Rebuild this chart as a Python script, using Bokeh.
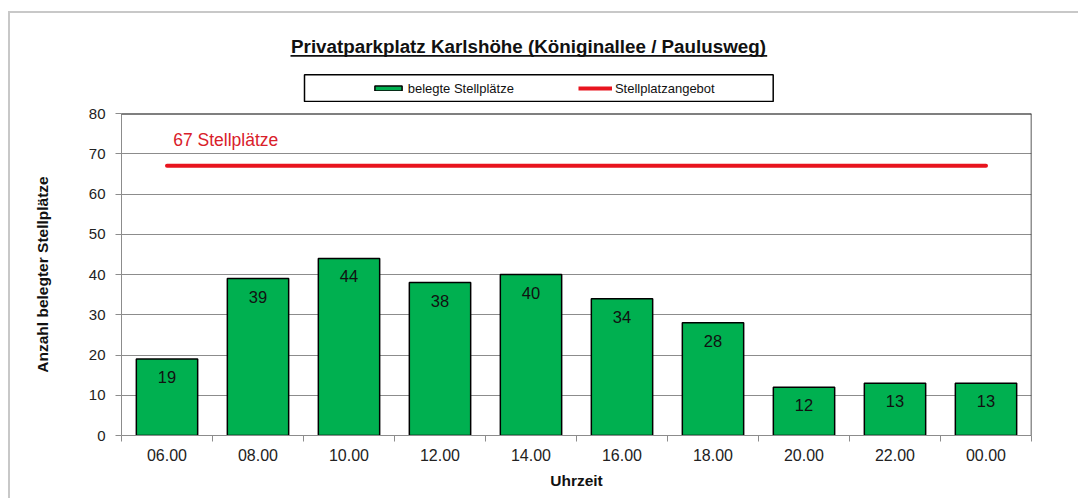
from bokeh.plotting import figure
from bokeh.layouts import column
from bokeh.models import (FixedTicker, Range1d, Label, Span, Legend, LegendItem,
                          ColumnDataSource)
from bokeh.core.properties import value
from bokeh.embed import file_html
from bokeh.resources import INLINE

# ---- data ----
categories = ["06.00", "08.00", "10.00", "12.00", "14.00",
              "16.00", "18.00", "20.00", "22.00", "00.00"]
occupied = [19, 39, 44, 38, 40, 34, 28, 12, 13, 13]
capacity = 67
y_ticks = [0, 10, 20, 30, 40, 50, 60, 70, 80]

title_text = "Privatparkplatz Karlshöhe (Königinallee / Paulusweg)"
bar_legend = "belegte Stellplätze"
line_legend = "Stellplatzangebot"
capacity_text = "67 Stellplätze"
x_title = "Uhrzeit"
y_title = "Anzahl belegter Stellplätze"

FONT = "Liberation Sans"
GREEN = "#00B050"
RED = "#E8141E"
GRID = "#8c8c8c"
NAN = float("nan")

n = len(categories)
centers = [i + 0.5 for i in range(n)]
bounds = [float(i) for i in range(n + 1)]
labels = [str(v) for v in occupied]

# page geometry (layout content starts at OX, OY inside a 2px border)
OX, OY = 10, 13
W = 1068
FRAME_L, FRAME_R, FRAME_T, FRAME_B = 121, 1031, 113, 435
SPLIT = 102                      # page y where header ends and chart begins
HEAD_H = SPLIT - OY
MAIN_H = 498 - SPLIT
BL = FRAME_L - OX
BR = W - (FRAME_R - OX)

# ---------------- header (title + legend) ----------------
hdr = figure(width=W, height=HEAD_H, output_backend="svg", toolbar_location=None,
             x_range=Range1d(FRAME_L, FRAME_R), y_range=Range1d(SPLIT, OY),
             min_border_left=BL, min_border_right=BR,
             min_border_top=0, min_border_bottom=0,
             background_fill_color="white", border_fill_color="white")
hdr.axis.visible = False
hdr.grid.visible = False
hdr.outline_line_color = None

hdr.text(x=[528], y=[45.7], text=[title_text], text_font=value(FONT),
         text_font_size="18.8px", text_font_style="bold", text_align="center",
         text_baseline="alphabetic", text_color="#111111")
hdr.line(x=[290, 766.7], y=[55.4, 55.4], line_color="#111111", line_width=1.6)
hdr.quad(left=[304], right=[772.7], top=[74.3], bottom=[101],
         fill_color="white", line_color="black", line_width=1.5)

# legend proxies (NaN data: nothing drawn in the header itself)
proxy_bar = hdr.vbar(x=[NAN], top=[NAN], width=1, fill_color=GREEN,
                     line_color="black", line_width=1.5)
proxy_line = hdr.line(x=[NAN, NAN], y=[NAN, NAN], line_color=RED, line_width=4)
legend = Legend(items=[LegendItem(label=bar_legend, renderers=[proxy_bar]),
                       LegendItem(label=line_legend, renderers=[proxy_line])],
                orientation="horizontal",
                location=(370.7 - FRAME_L, SPLIT - 98),
                glyph_width=34, glyph_height=6, label_height=20,
                label_standoff=3, spacing=64, padding=0, margin=0,
                border_line_color=None, background_fill_alpha=0,
                label_text_font=FONT, label_text_font_size="13px",
                label_text_color="#111111")
hdr.add_layout(legend, "center")

# ---------------- main chart ----------------
src = ColumnDataSource(dict(x=centers, top=occupied, lab=labels, cat=categories))

p = figure(width=W, height=MAIN_H, output_backend="svg", toolbar_location=None,
           x_range=Range1d(0, n), y_range=Range1d(0, 80),
           min_border_left=BL, min_border_right=BR,
           min_border_top=FRAME_T - SPLIT,
           min_border_bottom=498 - FRAME_B,
           background_fill_color="white", border_fill_color="white")
p.outline_line_color = None

p.xgrid.visible = False
p.ygrid.grid_line_color = GRID
p.ygrid.grid_line_width = 1

p.yaxis.ticker = FixedTicker(ticks=y_ticks, minor_ticks=[])
p.yaxis.axis_line_color = GRID
p.yaxis.major_tick_line_color = GRID
p.yaxis.major_tick_out = 6
p.yaxis.major_tick_in = 0
p.yaxis.minor_tick_line_color = None
p.yaxis.major_label_standoff = 10
p.yaxis.major_label_text_font = FONT
p.yaxis.major_label_text_font_size = "15px"
p.yaxis.major_label_text_color = "#222222"
p.yaxis.axis_label = y_title
p.yaxis.axis_label_text_font = FONT
p.yaxis.axis_label_text_font_size = "15.5px"
p.yaxis.axis_label_text_font_style = "bold"
p.yaxis.axis_label_text_color = "#111111"
p.yaxis.axis_label_standoff = 35

p.xaxis.ticker = FixedTicker(ticks=centers, minor_ticks=bounds)
p.xaxis.major_label_overrides = {c: lab for c, lab in zip(centers, categories)}
p.xaxis.axis_line_color = GRID
p.xaxis.major_tick_line_color = None
p.xaxis.major_tick_out = 6
p.xaxis.major_tick_in = 0
p.xaxis.minor_tick_line_color = GRID
p.xaxis.minor_tick_out = 6
p.xaxis.minor_tick_in = 0
p.xaxis.major_label_standoff = 7
p.xaxis.major_label_text_font = FONT
p.xaxis.major_label_text_font_size = "16px"
p.xaxis.major_label_text_color = "#222222"
p.xaxis.axis_label = x_title
p.xaxis.axis_label_text_font = FONT
p.xaxis.axis_label_text_font_size = "15.5px"
p.xaxis.axis_label_text_font_style = "bold"
p.xaxis.axis_label_text_color = "#111111"
p.xaxis.axis_label_standoff = 8

p.add_layout(Span(location=80, dimension="width", line_color="black", line_width=2))
p.add_layout(Span(location=n, dimension="height", line_color="#222222", line_width=1.5))

bars = p.vbar(x="x", top="top", width=0.674, bottom=0, source=src,
              fill_color=GREEN, line_color="black", line_width=1.5)
p.text(x="x", y="top", text="lab", source=src, text_align="center",
       text_baseline="middle", y_offset=18, text_font=value(FONT),
       text_font_size="16.5px", text_color="#111111")

cap_line = p.line(x=[centers[0], centers[-1]], y=[capacity, capacity],
                  line_color=RED, line_width=4, line_cap="round")
p.add_layout(Label(x=51.7, y=295.5, x_units="screen", y_units="screen",
                   text=capacity_text, text_font=FONT, text_font_size="17.5px",
                   text_color="#D9202A", text_baseline="alphabetic"))

layout = column(hdr, p, spacing=0, margin=(11, 0, 0, 8),
                styles={"border-left": "2px solid #c8c8c8",
                        "border-top": "2px solid #c8c8c8"})

open("out.html", "w").write(file_html(layout, INLINE))
